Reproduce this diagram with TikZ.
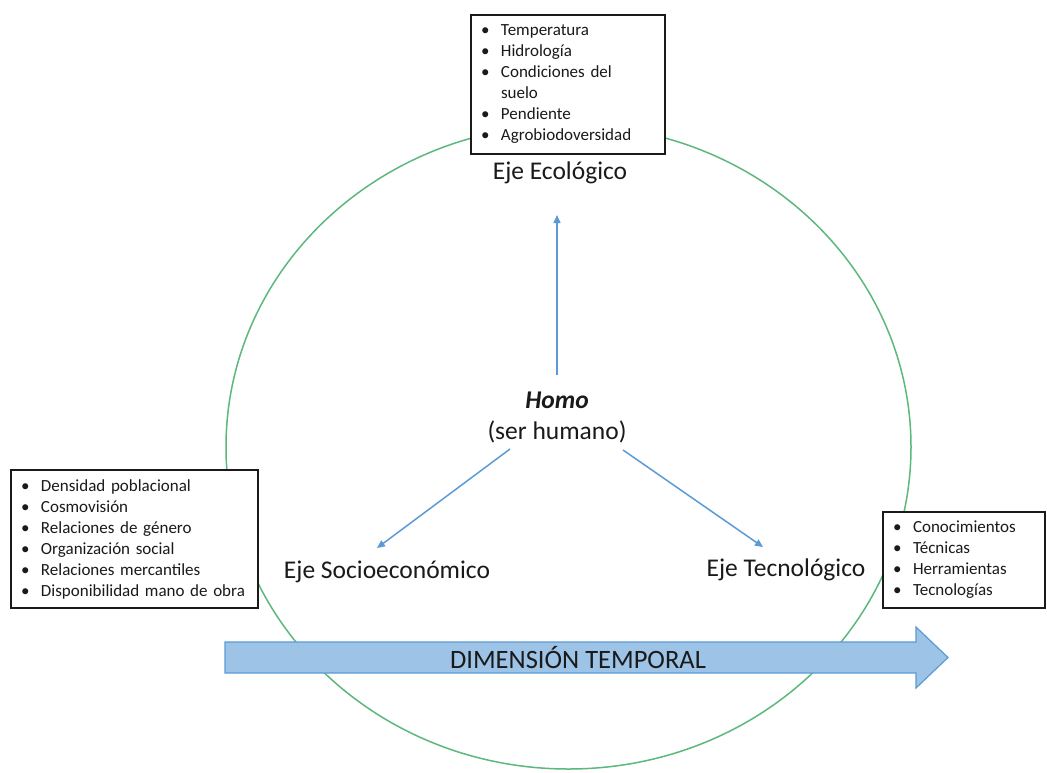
\documentclass[tikz,border=0pt]{standalone}
\usepackage{fontspec}
\setmainfont{Carlito}
\usetikzlibrary{arrows.meta}
\definecolor{axisblue}{HTML}{5B9BD5}
\definecolor{ringgreen}{HTML}{5CB87C}
\definecolor{bandfill}{HTML}{9DC3E6}
\definecolor{ink}{HTML}{1A1A1A}
\newcommand\bitem[1]{\makebox[21pt][l]{\hspace{1pt}•}#1}
\newcommand\bcont[1]{\hspace*{21pt}#1}
\begin{document}
\begin{tikzpicture}[x=1pt,y=-1pt,
  listbox/.style={draw=ink, line width=1.6pt, fill=white, text=ink,
    font=\fontsize{17}{21}\selectfont, align=left, inner xsep=9pt, inner ysep=0pt},
  axislabel/.style={text=ink, font=\fontsize{25.5}{30}\selectfont, inner sep=0pt},
  conn/.style={draw=axisblue, line width=1.5pt, -{Triangle[length=8pt,width=7pt]}},
  ring/.style={draw=ringgreen, line width=1.5pt},
  band/.style={draw=axisblue, line width=1.2pt, fill=bandfill}]
\useasboundingbox (0,0) rectangle (1047,772);
\fill[white] (0,0) rectangle (1047,772);

% outer ring
\draw[ring] (568.5,447) ellipse [x radius=342.5, y radius=322];

% temporal band
\draw[band] (225,642) -- (916,642) -- (916,627) -- (948,657.5) -- (916,688)
  -- (916,673) -- (225,673) -- cycle;
\node[text=ink, font=\fontsize{26.5}{30}\selectfont, inner sep=0pt] (temp) at (578,657.5) {DIMENSIÓN TEMPORAL};

% factor boxes
\node[listbox, text width=176pt, minimum height=139pt] (ecobox) at (568,84.5)
  {\bitem{Temperatura}\\ \bitem{Hidrología}\\ \bitem{Condiciones del}\\ \bcont{suelo}\\ \bitem{Pendiente}\\ \bitem{Agrobiodoversidad}};
\node[listbox, text width=229pt, minimum height=138pt] (socbox) at (134.5,539)
  {\bitem{Densidad poblacional}\\ \bitem{Cosmovisión}\\ \bitem{Relaciones de género}\\ \bitem{Organización social}\\ \bitem{Relaciones mercantiles}\\ \bitem{Disponibilidad mano de obra}};
\node[listbox, text width=144pt, minimum height=96pt] (tecbox) at (964,560)
  {\bitem{Conocimientos}\\ \bitem{Técnicas}\\ \bitem{Herramientas}\\ \bitem{Tecnologías}};

% axis labels
\node[axislabel] (eco) at (560,173) {Eje Ecológico};
\node[axislabel] (soc) at (387,572) {Eje Socioeconómico};
\node[axislabel] (tec) at (786,570) {Eje Tecnológico};

% centre
\node[text=ink, font=\fontsize{25.5}{31}\selectfont, align=center, inner sep=0pt] (homo) at (557,417.5)
  {\textbf{\textit{Homo}}\\(ser humano)};

% connector ends
\coordinate (ecoTip) at (557,215);
\coordinate (socTip) at (377,548);
\coordinate (tecTip) at (763,547);
\coordinate (homoUp) at (557,375);
\coordinate (homoLeft) at (510,449);
\coordinate (homoRight) at (623,450);

\draw[conn] (homoUp) -- (ecoTip);
\draw[conn] (homoLeft) -- (socTip);
\draw[conn] (homoRight) -- (tecTip);
\end{tikzpicture}
\end{document}
